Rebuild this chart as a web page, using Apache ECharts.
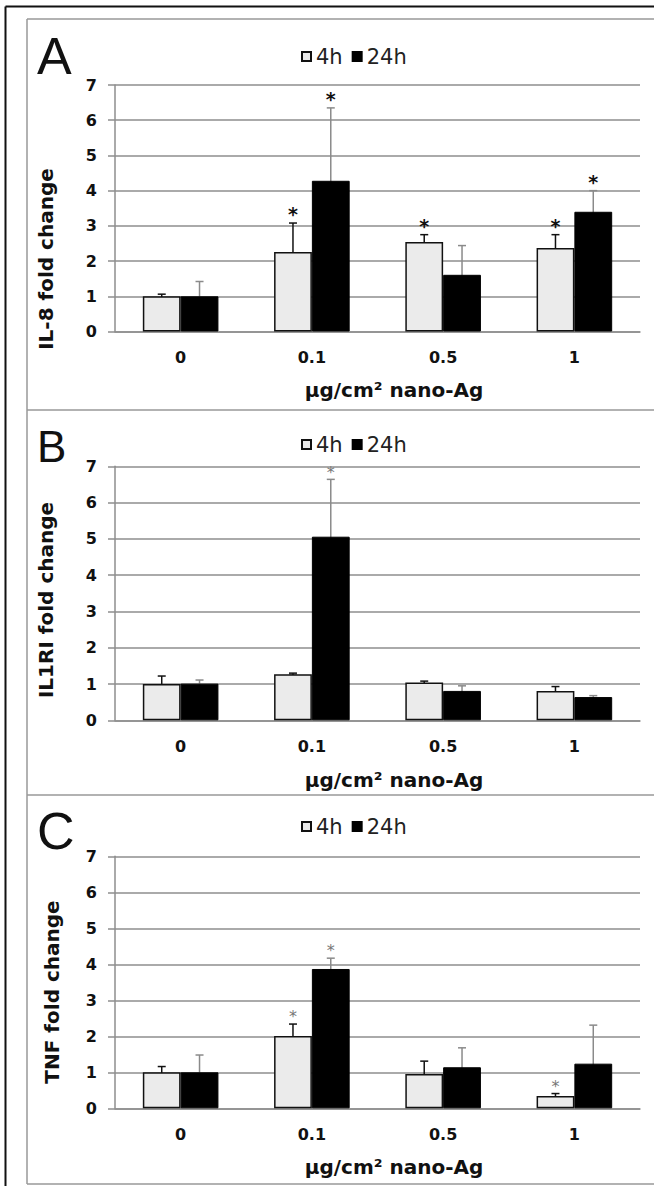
<!DOCTYPE html>
<html>
<head>
<meta charset="utf-8">
<title>nano-Ag fold change</title>
<script src="https://cdn.jsdelivr.net/npm/echarts@6/dist/echarts.min.js"></script>
<style>
  html, body { margin: 0; padding: 0; background: #fff; }
  #chart { width: 654px; height: 1186px; }
</style>
</head>
<body>
<div id="chart"></div>
<script>
// x categories (µg/cm2 nano-Ag) and series names
const categories = ['0', '0.1', '0.5', '1'];
const seriesNames = ['4h', '24h'];

// panel A - IL-8
const il8_4h = [1.00, 2.26, 2.54, 2.37];
const il8_24h = [1.00, 4.28, 1.61, 3.40];
const il8_4hLow = [0.95, 1.59, 2.29, 1.97];
const il8_4hHigh = [1.06, 3.08, 2.75, 2.75];
const il8_24hLow = [0.66, 2.86, 1.01, 2.87];
const il8_24hHigh = [1.42, 6.35, 2.44, 4.00];
const il8_4hStar = [0, 1, 1, 1];
const il8_24hStar = [0, 1, 0, 1];

// panel B - IL1RI
const il1_4h = [1.00, 1.27, 1.04, 0.81];
const il1_24h = [1.01, 5.06, 0.81, 0.64];
const il1_4hLow = [0.83, 1.24, 0.99, 0.67];
const il1_4hHigh = [1.22, 1.30, 1.08, 0.93];
const il1_24hLow = [0.90, 3.82, 0.68, 0.60];
const il1_24hHigh = [1.11, 6.64, 0.95, 0.68];
const il1_4hStar = [0, 0, 0, 0];
const il1_24hStar = [0, 1, 0, 0];

// panel C - TNF
const tnf_4h = [1.00, 2.01, 0.95, 0.34];
const tnf_24h = [1.00, 3.87, 1.14, 1.24];
const tnf_4hLow = [0.85, 1.68, 0.65, 0.29];
const tnf_4hHigh = [1.16, 2.34, 1.31, 0.41];
const tnf_24hLow = [0.68, 3.55, 0.79, 0.63];
const tnf_24hHigh = [1.48, 4.17, 1.68, 2.31];
const tnf_4hStar = [0, 1, 0, 1];
const tnf_24hStar = [0, 1, 0, 0];

const xTitle = 'μg/cm² nano-Ag';

const panels = [
  { letter: 'A', ytitle: 'IL-8 fold change', v4: il8_4h, v24: il8_24h,
    lo4: il8_4hLow, hi4: il8_4hHigh, lo24: il8_24hLow, hi24: il8_24hHigh, s4: il8_4hStar, s24: il8_24hStar,
    top: 85, height: 246.5, legendTop: 41, letterY: 56, letterSize: 52, ytY: 259, ytX: 46, xtY: 390,
    star: { color: '#111', size: 19, weight: 'bold', gap: 13 } },
  { letter: 'B', ytitle: 'IL1RI fold change', v4: il1_4h, v24: il1_24h,
    lo4: il1_4hLow, hi4: il1_4hHigh, lo24: il1_24hLow, hi24: il1_24hHigh, s4: il1_4hStar, s24: il1_24hStar,
    top: 466.3, height: 254, legendTop: 429, letterY: 446, letterSize: 44, ytY: 600, ytX: 46, xtY: 780,
    star: { color: '#777', size: 16, weight: 'normal', gap: 10 } },
  { letter: 'C', ytitle: 'TNF fold change', v4: tnf_4h, v24: tnf_24h,
    lo4: tnf_4hLow, hi4: tnf_4hHigh, lo24: tnf_24hLow, hi24: tnf_24hHigh, s4: tnf_4hStar, s24: tnf_24hStar,
    top: 856.3, height: 252, legendTop: 811, letterY: 831, letterSize: 52, ytY: 992, ytX: 52, xtY: 1167,
    star: { color: '#777', size: 16, weight: 'normal', gap: 11 } }
];

const BAR_FRAC = 0.288;
const GRID_COLOR = '#8e8e8e';
const BOLD = 'DejaVu Sans';

function errorBars(side, color, star) {
  return function (params, api) {
    const i = api.value(0);
    const band = api.size([1, 0])[0];
    const x = api.coord([i, 0])[0] + side * band * BAR_FRAC / 2;
    const yLo = api.coord([i, api.value(1)])[1];
    const yHi = api.coord([i, api.value(2)])[1];
    const st = { stroke: color, lineWidth: 1.5 };
    const kids = [
      { type: 'line', shape: { x1: x, y1: yLo, x2: x, y2: yHi }, style: st },
      { type: 'line', shape: { x1: x - 4, y1: yHi, x2: x + 4, y2: yHi }, style: st },
      { type: 'line', shape: { x1: x - 4, y1: yLo, x2: x + 4, y2: yLo }, style: st }
    ];
    if (api.value(3)) {
      kids.push({ type: 'text', style: {
        text: '*', x: x, y: yHi - star.gap + star.size * 0.22,
        align: 'center', verticalAlign: 'middle',
        fontFamily: BOLD, fontSize: star.size, fontWeight: star.weight, fill: star.color } });
    }
    return { type: 'group', children: kids };
  };
}

const grid = [], xAxis = [], yAxis = [], series = [], legend = [], graphic = [];

panels.forEach(function (p, k) {
  grid.push({ left: 115, width: 525, top: p.top, height: p.height });
  xAxis.push({
    type: 'category', gridIndex: k, data: categories,
    axisLine: { lineStyle: { color: GRID_COLOR, width: 1.5 } },
    axisTick: { length: 5, lineStyle: { color: GRID_COLOR, width: 1.5 } },
    axisLabel: { margin: 18, color: '#111', fontFamily: BOLD, fontWeight: 'bold', fontSize: 16 }
  });
  yAxis.push({
    type: 'value', gridIndex: k, min: 0, max: 7, interval: 1,
    axisLine: { show: true, lineStyle: { color: GRID_COLOR, width: 1.5 } },
    axisTick: { show: true, length: 7, lineStyle: { color: GRID_COLOR, width: 1.5 } },
    splitLine: { lineStyle: { color: GRID_COLOR, width: 1.5 } },
    axisLabel: { margin: 18, color: '#111', fontFamily: BOLD, fontWeight: 'bold', fontSize: 16 }
  });
  series.push({
    name: '4h', type: 'bar', xAxisIndex: k, yAxisIndex: k, data: p.v4,
    barWidth: (BAR_FRAC * 100) + '%', barGap: '0%',
    itemStyle: { color: '#ebebeb', borderColor: '#111', borderWidth: 1.5 }
  });
  series.push({
    name: '24h', type: 'bar', xAxisIndex: k, yAxisIndex: k, data: p.v24,
    barWidth: (BAR_FRAC * 100) + '%', barGap: '0%',
    itemStyle: { color: '#000', borderColor: '#000', borderWidth: 1 }
  });
  series.push({
    type: 'custom', xAxisIndex: k, yAxisIndex: k, clip: false,
    renderItem: errorBars(-1, '#111', p.star),
    data: categories.map(function (c, i) { return [i, p.lo4[i], p.hi4[i], p.s4[i]]; })
  });
  series.push({
    type: 'custom', xAxisIndex: k, yAxisIndex: k, clip: false,
    renderItem: errorBars(1, '#8a8a8a', p.star),
    data: categories.map(function (c, i) { return [i, p.lo24[i], p.hi24[i], p.s24[i]]; })
  });
  legend.push({
    data: seriesNames, left: 296, top: p.legendTop, icon: 'rect',
    itemWidth: 9, itemHeight: 9, itemGap: 9, selectedMode: false,
    textStyle: { fontFamily: 'DejaVu Sans', fontSize: 21, color: '#222' }
  });
  graphic.push({
    type: 'text', x: 37, y: p.letterY,
    style: { text: p.letter, verticalAlign: 'middle', fontFamily: 'Liberation Sans', fontSize: p.letterSize, fill: '#111' }
  });
  graphic.push({
    type: 'text', x: p.ytX, y: p.ytY, rotation: Math.PI / 2,
    style: { text: p.ytitle, align: 'center', verticalAlign: 'middle', fontFamily: BOLD, fontWeight: 'bold', fontSize: 20, fill: '#111' }
  });
  graphic.push({
    type: 'text', x: 394, y: p.xtY,
    style: { text: xTitle, align: 'center', verticalAlign: 'middle', fontFamily: BOLD, fontWeight: 'bold', fontSize: 20, fill: '#111' }
  });
});

// panel frames
const frame = { stroke: '#999', lineWidth: 1.5 };
[19, 410, 795, 1184].forEach(function (y) {
  graphic.push({ type: 'line', shape: { x1: 27, y1: y, x2: 654, y2: y }, style: frame, silent: true });
});
graphic.push({ type: 'line', shape: { x1: 27, y1: 19, x2: 27, y2: 1184 }, style: frame, silent: true });
graphic.push({ type: 'line', shape: { x1: 5.5, y1: 6.5, x2: 654, y2: 6.5 }, style: { stroke: '#111', lineWidth: 2 }, silent: true });
graphic.push({ type: 'line', shape: { x1: 5.5, y1: 6.5, x2: 5.5, y2: 1186 }, style: { stroke: '#111', lineWidth: 2 }, silent: true });

const chart = echarts.init(document.getElementById('chart'), null, { renderer: 'svg' });
chart.setOption({
  animation: false,
  backgroundColor: '#fff',
  grid: grid, xAxis: xAxis, yAxis: yAxis, legend: legend, series: series, graphic: graphic
});
</script>
</body>
</html>
